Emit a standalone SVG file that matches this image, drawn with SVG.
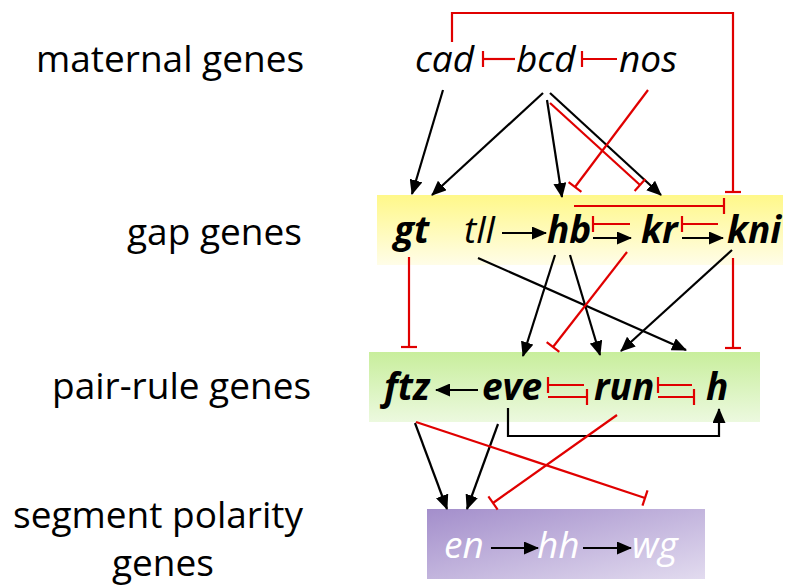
<svg xmlns="http://www.w3.org/2000/svg" width="795" height="587" viewBox="0 0 795 587">
<style>
.lbl{font-family:"Open Sans","Noto Sans",sans-serif;font-size:37px;fill:#000}
.g{font-family:"Open Sans","Noto Sans",sans-serif;font-size:37px;font-style:italic;fill:#000}
.b{font-weight:bold}
.w{fill:#fff}
.act{stroke:#000;stroke-width:2.2;fill:none;marker-end:url(#arr)}
.inh{stroke:#e00000;stroke-width:2.2;fill:none;marker-end:url(#tbar)}
</style>
<defs>
<marker id="arr" viewBox="0 0 15 13" refX="14" refY="6.5" markerWidth="15" markerHeight="13" markerUnits="userSpaceOnUse" orient="auto">
<path d="M0,0 L15,6.5 L0,13 z" fill="#000"/>
</marker>
<marker id="tbar" viewBox="-2 -9 4 18" refX="0" refY="0" markerWidth="4" markerHeight="18" markerUnits="userSpaceOnUse" orient="auto">
<path d="M0,-8 V8" stroke="#e00000" stroke-width="2.2"/>
</marker>
<linearGradient id="gy" x1="0" y1="0" x2="0" y2="1">
<stop offset="0" stop-color="#fff889"/>
<stop offset="1" stop-color="#fffde8"/>
</linearGradient>
<linearGradient id="gg" x1="0" y1="0" x2="0" y2="1">
<stop offset="0" stop-color="#c8ee9c"/>
<stop offset="1" stop-color="#ecf9df"/>
</linearGradient>
<linearGradient id="gp" x1="0" y1="0" x2="1" y2="1">
<stop offset="0" stop-color="#a38ecb"/>
<stop offset="1" stop-color="#e2dbef"/>
</linearGradient>
</defs>
<rect width="795" height="587" fill="#fff"/>
<g id="labels">
<text class="lbl" x="36" y="72">maternal genes</text>
<text class="lbl" x="127" y="245">gap genes</text>
<text class="lbl" x="52" y="399">pair-rule genes</text>
<text class="lbl" x="13" y="528">segment polarity</text>
<text class="lbl" x="112" y="576">genes</text>
</g>
<g id="band-gap"><rect x="377" y="195" width="406" height="70" fill="url(#gy)"/></g>
<g id="band-pair"><rect x="369" y="352" width="391" height="70" fill="url(#gg)"/></g>
<g id="band-seg"><rect x="427" y="509" width="278" height="70" fill="url(#gp)"/></g>
<g id="connectors">
<path class="inh" d="M452,42 V13 H733 V192"/>
<line class="inh" x1="515" y1="59" x2="483" y2="59"/>
<line class="inh" x1="617" y1="59" x2="582" y2="59"/>
<line class="act" x1="443" y1="90" x2="412" y2="194"/>
<line class="act" x1="543" y1="93" x2="432" y2="195"/>
<line class="act" x1="547" y1="100" x2="562" y2="197"/>
<line class="act" x1="550" y1="93" x2="661" y2="195"/>
<line class="inh" x1="550" y1="103" x2="640" y2="185"/>
<line class="inh" x1="648" y1="90" x2="575" y2="187"/>
<line class="act" x1="502" y1="233" x2="546" y2="233"/>
<line class="inh" x1="630" y1="224" x2="593" y2="224"/>
<line class="act" x1="593" y1="238" x2="631" y2="238"/>
<line class="inh" x1="718" y1="224" x2="682" y2="224"/>
<line class="act" x1="682" y1="238" x2="723" y2="238"/>
<line class="inh" x1="574" y1="206" x2="724" y2="206"/>
<line class="inh" x1="409" y1="257" x2="409" y2="347"/>
<line class="act" x1="478" y1="258" x2="686" y2="350"/>
<line class="act" x1="555" y1="255" x2="523" y2="356"/>
<line class="act" x1="570" y1="255" x2="600" y2="355"/>
<line class="inh" x1="627" y1="252" x2="553" y2="347"/>
<line class="act" x1="732" y1="250" x2="621" y2="351"/>
<line class="inh" x1="733" y1="258" x2="733" y2="348"/>
<line class="act" x1="478" y1="390" x2="436" y2="390"/>
<line class="inh" x1="584" y1="385" x2="548" y2="385"/>
<line class="inh" x1="548" y1="397" x2="587" y2="397"/>
<line class="inh" x1="692" y1="385" x2="658" y2="385"/>
<line class="inh" x1="658" y1="397" x2="694" y2="397"/>
<path class="act" d="M508,408 V436 H719 V409"/>
<line class="act" x1="415" y1="423" x2="447" y2="509"/>
<line class="act" x1="498" y1="424" x2="467" y2="509"/>
<line class="inh" x1="617" y1="415" x2="493" y2="503"/>
<line class="inh" x1="416" y1="422" x2="645" y2="498"/>
<line class="act" x1="491" y1="548" x2="538" y2="548"/>
<line class="act" x1="583" y1="548" x2="631" y2="548"/>
</g>
<g id="cad"><text class="g" x="415" y="72">cad</text></g>
<g id="bcd"><text class="g" x="516" y="72">bcd</text></g>
<g id="nos"><text class="g" x="619" y="72">nos</text></g>
<g id="gt"><text class="g b" x="394" y="243">gt</text></g>
<g id="tll"><text class="g" x="464" y="243">tll</text></g>
<g id="hb"><text class="g b" x="547" y="243">hb</text></g>
<g id="kr"><text class="g b" x="641" y="243">kr</text></g>
<g id="kni"><text class="g b" x="727" y="243">kni</text></g>
<g id="ftz"><text class="g b" x="384" y="400">ftz</text></g>
<g id="eve"><text class="g b" x="482" y="400">eve</text></g>
<g id="run"><text class="g b" x="594" y="400">run</text></g>
<g id="h"><text class="g b" x="706" y="400">h</text></g>
<g id="en"><text class="g w" x="444" y="558">en</text></g>
<g id="hh"><text class="g w" x="537" y="558">hh</text></g>
<g id="wg"><text class="g w" x="632" y="558">wg</text></g>
</svg>
